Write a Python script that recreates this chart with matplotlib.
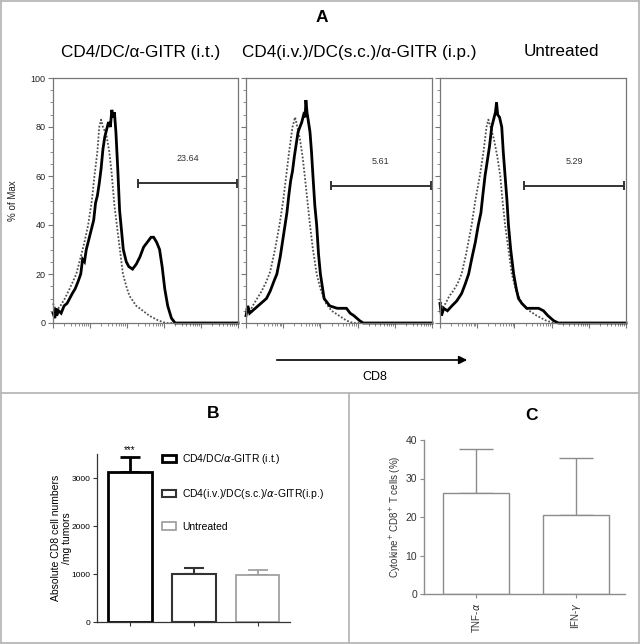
import matplotlib
matplotlib.use('Agg')
import matplotlib.pyplot as plt
from matplotlib.patches import Patch, FancyArrowPatch
from matplotlib.lines import Line2D
from matplotlib.ticker import FixedLocator, NullFormatter
import numpy as np

plt.rcParams['font.family'] = ['Liberation Sans', 'DejaVu Sans']

# ---------------- Panel A: CD8 histograms (x in log decades, y in % of Max) ----------------
panel_titles = ['CD4/DC/α-GITR (i.t.)', 'CD4(i.v.)/DC(s.c.)/α-GITR (i.p.)', 'Untreated']

a1_solid_x = [0, 0.05, 0.08, 0.10, 0.15, 0.22, 0.30, 0.38, 0.45, 0.52, 0.60, 0.68, 0.75, 0.80,
              0.85, 0.90, 0.95, 1.00, 1.05, 1.10, 1.15, 1.20, 1.25, 1.30, 1.35, 1.40, 1.45, 1.50,
              1.55, 1.59, 1.62, 1.66, 1.70, 1.75, 1.80, 1.85, 1.90, 1.98, 2.05, 2.15, 2.25, 2.35,
              2.45, 2.55, 2.65, 2.72, 2.80, 2.88, 2.95, 3.02, 3.10, 3.20, 3.30, 5.0]
a1_solid_y = [4, 2, 6, 3, 5, 4, 7, 8, 10, 12, 14, 17, 20, 26,
              25, 30, 33, 36, 39, 42, 49, 52, 57, 63, 71, 76, 79, 82,
              80, 87, 84, 86, 78, 63, 46, 38, 30, 25, 23, 22, 24, 27,
              31, 33, 35, 35, 33, 30, 23, 14, 7, 2, 0, 0]
a1_dot_x = [0, 0.09, 0.20, 0.32, 0.45, 0.63, 0.75, 0.85, 0.95, 1.05, 1.12, 1.20, 1.25, 1.30,
            1.35, 1.44, 1.52, 1.58, 1.66, 1.75, 1.89, 2.00, 2.07, 2.25, 2.43, 2.60, 2.85, 3.05, 5.0]
a1_dot_y = [8, 5, 7, 10, 14, 20, 27, 33, 40, 50, 60, 70, 80, 83,
            80, 77, 70, 62, 48, 37, 20, 14, 11, 7, 5, 3, 1, 0, 0]

a2_solid_x = [0, 0.05, 0.10, 0.25, 0.40, 0.55, 0.65, 0.75, 0.83, 0.92, 1.00, 1.05, 1.10, 1.15,
              1.20, 1.25, 1.30, 1.35, 1.40, 1.45, 1.50, 1.55, 1.59, 1.61, 1.64, 1.68, 1.72, 1.76,
              1.80, 1.85, 1.90, 1.95, 2.00, 2.10, 2.25, 2.45, 2.60, 2.70, 2.80, 2.90, 3.05, 3.15, 5.0]
a2_solid_y = [3, 7, 4, 6, 8, 10, 13, 17, 20, 27, 35, 40, 45, 52,
              58, 62, 68, 73, 78, 80, 82, 85, 84, 91, 86, 82, 78, 70,
              60, 48, 40, 28, 20, 10, 7, 6, 6, 6, 4, 3, 1, 0, 0]
a2_dot_x = [0, 0.08, 0.18, 0.30, 0.42, 0.55, 0.65, 0.78, 0.90, 1.00, 1.08, 1.16, 1.25, 1.32,
            1.38, 1.45, 1.52, 1.58, 1.65, 1.72, 1.80, 1.90, 2.00, 2.15, 2.30, 2.50, 2.70, 2.88, 5.0]
a2_dot_y = [6, 4, 7, 10, 13, 17, 21, 30, 40, 50, 60, 70, 80, 84,
            80, 75, 68, 60, 50, 40, 30, 20, 14, 8, 5, 3, 1, 0, 0]

a3_solid_x = [0, 0.04, 0.10, 0.20, 0.32, 0.45, 0.58, 0.68, 0.77, 0.85, 0.95, 1.03, 1.10, 1.15,
              1.21, 1.27, 1.33, 1.39, 1.44, 1.49, 1.52, 1.55, 1.60, 1.66, 1.70, 1.75, 1.80, 1.84,
              1.90, 1.98, 2.05, 2.11, 2.20, 2.33, 2.50, 2.65, 2.78, 2.90, 3.05, 3.18, 5.0]
a3_solid_y = [8, 3, 6, 5, 7, 9, 12, 16, 20, 26, 33, 40, 45, 52,
              60, 66, 72, 80, 83, 86, 90, 85, 84, 80, 70, 60, 50, 40,
              30, 20, 14, 10, 8, 6, 6, 6, 5, 3, 1, 0, 0]
a3_dot_x = [0, 0.06, 0.15, 0.25, 0.35, 0.47, 0.58, 0.70, 0.85, 0.95, 1.07, 1.17, 1.25, 1.30,
            1.36, 1.45, 1.54, 1.62, 1.68, 1.75, 1.84, 1.93, 2.05, 2.20, 2.40, 2.60, 2.85, 3.05, 5.0]
a3_dot_y = [10, 6, 8, 11, 13, 16, 20, 28, 40, 50, 60, 70, 80, 83,
            80, 75, 68, 60, 50, 40, 30, 20, 13, 8, 5, 3, 1, 0, 0]

gate_labels = ['23.64', '5.61', '5.29']
gate_start = [2.30, 2.28, 2.27]
gate_end = [4.98, 4.97, 4.95]
gate_y = [57, 56, 56]

# ---------------- Panel B ----------------
b_groups = [r'CD4/DC/$\alpha$-GITR (i.t.)', r'CD4(i.v.)/DC(s.c.)/$\alpha$-GITR(i.p.)', 'Untreated']
b_values = [3140, 1000, 990]
b_errors = [310, 140, 95]
b_yticks = [0, 1000, 2000, 3000]

# ---------------- Panel C ----------------
c_categories = [r'TNF-$\alpha$', r'IFN-$\gamma$']
c_values = [26.3, 20.4]
c_errors = [11.3, 14.8]
c_yticks = [0, 10, 20, 30, 40]

W, H = 640, 644
fig = plt.figure(figsize=(W / 100, H / 100), dpi=100)


def px_rect(l, t, r, b):
    return [l / W, 1 - b / H, (r - l) / W, (b - t) / H]


def fx(x):
    return x / W


def fy(y):
    return 1 - y / H


# frame lines
border = '#b8b8b8'
for (x0, y0, x1, y1) in [(1, 1, 639, 1), (1, 1, 1, 643), (639, 1, 639, 643), (1, 643, 639, 643),
                         (1, 393, 639, 393), (349, 393, 349, 643)]:
    fig.add_artist(Line2D([fx(x0), fx(x1)], [fy(y0), fy(y1)], transform=fig.transFigure,
                          color=border, lw=1.3))

fig.text(fx(322), fy(18), 'A', ha='center', va='center', fontsize=12.5, fontweight='bold')
title_x = [141, 359, 561]

hist_rects = [(53, 78, 238, 323), (246, 78, 432, 323), (440, 78, 626, 323)]
solids = [(a1_solid_x, a1_solid_y), (a2_solid_x, a2_solid_y), (a3_solid_x, a3_solid_y)]
dots = [(a1_dot_x, a1_dot_y), (a2_dot_x, a2_dot_y), (a3_dot_x, a3_dot_y)]
minor_x = [d + np.log10(k) for d in range(5) for k in range(2, 10)]

for i in range(3):
    ax = fig.add_axes(px_rect(*hist_rects[i]))
    dx, dy = dots[i]
    sx, sy = solids[i]
    ax.plot(dx, dy, color='#505050', lw=1.3, ls=(0, (1, 1)), clip_on=False)
    ax.plot(sx, sy, color='black', lw=2.0, clip_on=False, solid_joinstyle='miter')
    ax.hlines(gate_y[i], gate_start[i], gate_end[i], color='#333333', lw=1.4)
    ax.vlines([gate_start[i], gate_end[i]], gate_y[i] - 1.8, gate_y[i] + 1.8, color='#333333', lw=1.4)
    ax.text((gate_start[i] + gate_end[i]) / 2, gate_y[i] + 10, gate_labels[i], ha='center', va='center',
            fontsize=6.5, color='#333333')
    ax.set_xlim(0, 5)
    ax.set_ylim(0, 100)
    ax.xaxis.set_major_locator(FixedLocator(range(6)))
    ax.xaxis.set_minor_locator(FixedLocator(minor_x))
    ax.xaxis.set_major_formatter(NullFormatter())
    ax.yaxis.set_major_locator(FixedLocator([0, 20, 40, 60, 80, 100]))
    ax.yaxis.set_minor_locator(FixedLocator(list(range(0, 101, 5))))
    ax.tick_params(which='major', direction='out', length=3.5, width=0.8, color='#777777',
                   labelsize=6.5, pad=2, labelcolor='#222222')
    ax.tick_params(which='minor', direction='out', length=2, width=0.6, color='#777777')
    for s in ax.spines.values():
        s.set_color('#777777')
        s.set_linewidth(0.9)
    if i == 0:
        ax.set_ylabel('% of Max', fontsize=7, color='#222222')
        ax.yaxis.set_label_coords(-0.19, 0.5)
    else:
        ax.yaxis.set_major_formatter(NullFormatter())
    fig.text(fx(title_x[i]), fy(52), panel_titles[i], ha='center', va='center', fontsize=12.3)

# CD8 arrow
fig.add_artist(FancyArrowPatch((fx(274), fy(360)), (fx(470), fy(360)),
                               transform=fig.transFigure, arrowstyle='-|>',
                               mutation_scale=12, color='black', lw=1.2))
fig.text(fx(375), fy(377), 'CD8', ha='center', va='center', fontsize=9)

# ---------------- Panel B ----------------
fig.text(fx(213), fy(414), 'B', ha='center', va='center', fontsize=12.5, fontweight='bold')
axb = fig.add_axes(px_rect(97, 454.3, 290, 622.3))
b_edge = ['#000000', '#333333', '#9a9a9a']
b_lw = [2.0, 1.5, 1.2]
bx = np.arange(len(b_values))
for i in range(len(b_values)):
    axb.bar(bx[i], b_values[i], width=0.68, facecolor='white', edgecolor=b_edge[i], lw=b_lw[i], zorder=2)
    axb.errorbar(bx[i], b_values[i], yerr=[[0], [b_errors[i]]], fmt='none', ecolor=b_edge[i],
                 elinewidth=b_lw[i], capsize=7, capthick=b_lw[i], zorder=1)
axb.text(bx[0], b_values[0] + b_errors[0] + 40, '***', ha='center', va='bottom', fontsize=7, clip_on=False)
axb.set_xlim(-0.515, 2.505)
axb.set_ylim(0, 3500)
axb.set_yticks(b_yticks)
axb.set_xticks(bx)
axb.set_xticklabels([])
axb.tick_params(direction='out', length=3, width=0.8, labelsize=6, color='#333333', pad=2)
for s in ['top', 'right']:
    axb.spines[s].set_visible(False)
for s in ['left', 'bottom']:
    axb.spines[s].set_color('#333333')
    axb.spines[s].set_linewidth(0.9)
axb.set_ylabel('Absolute CD8 cell numbers\n/mg tumors', fontsize=7.5, linespacing=1.15)
axb.yaxis.set_label_coords(-0.13, 0.5)
handles = [Patch(facecolor='white', edgecolor=b_edge[i], lw=b_lw[i]) for i in range(3)]
axb.legend(handles, b_groups, loc='upper left', bbox_to_anchor=(fx(162), fy(452)),
           bbox_transform=fig.transFigure, frameon=False, fontsize=7.5, handlelength=1.3,
           handleheight=0.7, labelspacing=2.0, handletextpad=0.6, borderpad=0, borderaxespad=0)

# ---------------- Panel C ----------------
fig.text(fx(532), fy(415), 'C', ha='center', va='center', fontsize=12.5, fontweight='bold')
axc = fig.add_axes(px_rect(424, 440, 625, 594))
cx = np.arange(len(c_values))
axc.bar(cx, c_values, width=0.667, facecolor='white', edgecolor='#8c8c8c', lw=1.0, zorder=2)
axc.errorbar(cx, c_values, yerr=[np.zeros(len(c_values)), c_errors], fmt='none', ecolor='#8c8c8c',
             elinewidth=1.0, capsize=12, capthick=1.0, zorder=1)
axc.set_xlim(-0.52, 1.49)
axc.set_ylim(0, 40)
axc.set_yticks(c_yticks)
axc.set_xticks(cx)
axc.set_xticklabels(c_categories, rotation=90, fontsize=7)
axc.tick_params(axis='y', direction='out', length=3, width=0.8, labelsize=7.5, color='#8c8c8c',
                labelcolor='#333333', pad=2)
axc.tick_params(axis='x', direction='out', length=3, width=0.8, color='#8c8c8c', labelcolor='#333333', pad=3)
for s in ['top', 'right']:
    axc.spines[s].set_visible(False)
for s in ['left', 'bottom']:
    axc.spines[s].set_color('#8c8c8c')
    axc.spines[s].set_linewidth(1.0)
axc.set_ylabel(r'Cytokine$^{+}$ CD8$^{+}$ T cells (%)', fontsize=7, color='#333333')
axc.yaxis.set_label_coords(-0.105, 0.5)

fig.savefig('out.png', dpi=100)
